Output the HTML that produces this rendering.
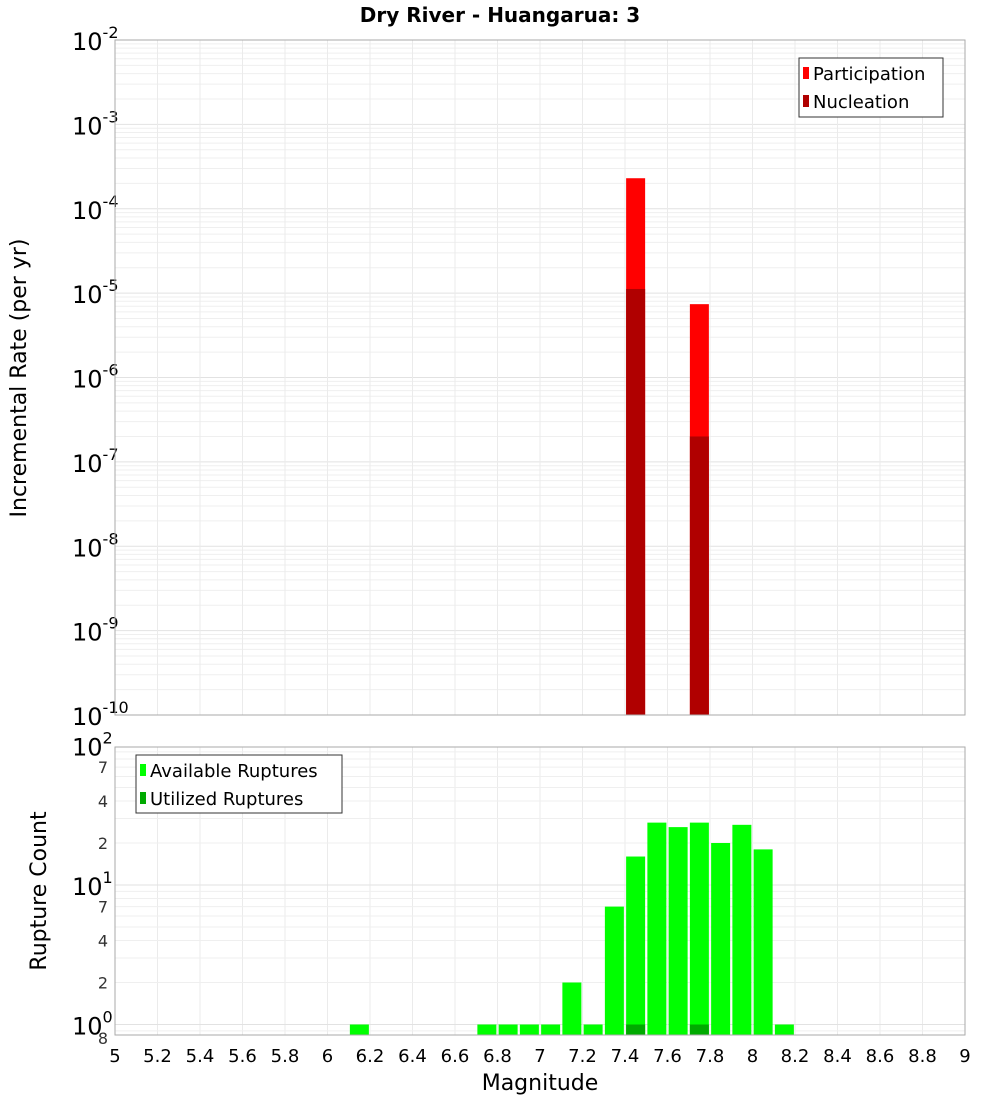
<!DOCTYPE html>
<html><head><meta charset="utf-8"><style>
body{margin:0;background:#fff;font-family:"Liberation Sans","DejaVu Sans",sans-serif}
svg text{font-family:"DejaVu Sans","Liberation Sans",sans-serif}
</style></head><body>
<svg id="c" width="1000" height="1100" xmlns="http://www.w3.org/2000/svg">
<text x="500" y="22" text-anchor="middle" font-size="20" font-weight="bold">Dry River - Huangarua: 3</text>
<text transform="translate(26,378) rotate(-90)" text-anchor="middle" font-size="22">Incremental Rate (per yr)</text>
<text transform="translate(46,891) rotate(-90)" text-anchor="middle" font-size="22">Rupture Count</text>
<text x="540" y="1090" text-anchor="middle" font-size="22">Magnitude</text>
<g id="topplot"></g><g id="botplot"></g>
</svg>
<script>
const mags = [7.45, 7.75];
const participation = [2.3e-4, 7.4e-6];
const nucleation = [1.12e-5, 2.0e-7];
const countMags = [6.15, 6.75, 6.85, 6.95, 7.05, 7.15, 7.25, 7.35, 7.45, 7.55, 7.65, 7.75, 7.85, 7.95, 8.05, 8.15];
const available = [1, 1, 1, 1, 1, 2, 1, 7, 16, 28, 26, 28, 20, 27, 18, 1];
const utilizedMags = [7.45, 7.75];
const utilized = [1, 1];
const xTicks = [5,5.2,5.4,5.6,5.8,6,6.2,6.4,6.6,6.8,7,7.2,7.4,7.6,7.8,8,8.2,8.4,8.6,8.8,9];

const NS='http://www.w3.org/2000/svg';
const L=115,R=965;
const x=v=>L+(v-5)/4*(R-L);
const T1=40,B1=715;
const y1=v=>T1+(-2-Math.log10(v))/8*(B1-T1);
const T2=747,B2=1035;
const y2=v=>1024.5-Math.log10(v)*139.5;
function el(p,tag,a,txt){const e=document.createElementNS(NS,tag);for(const k in a)e.setAttribute(k,a[k]);if(txt!==undefined)e.textContent=txt;p.appendChild(e);return e;}
const topG=document.getElementById('topplot'),botG=document.getElementById('botplot');
for(let d=-10;d<-2;d++){for(let m=1;m<10;m++){const yy=y1(m*Math.pow(10,d));const g=el(topG,'line',{x1:L,x2:R,y1:yy,y2:yy,stroke:m==1?'#e2e2e2':'#efefef','stroke-width':1});

}}
xTicks.forEach(t=>{const g=el(topG,'line',{x1:x(t),x2:x(t),y1:T1,y2:B1,stroke:'#ebebeb'});


const g2=el(botG,'line',{x1:x(t),x2:x(t),y1:T2,y2:B2,stroke:'#ebebeb'});


const lb=el(botG,'text',{x:x(t),y:1062,'text-anchor':'middle','font-size':18},String(t));

});
for(let d=-10;d<=-2;d++){const yy=y1(Math.pow(10,d));
const t=el(topG,'text',{x:72,y:yy+10,'font-size':24},'10');


el(t,'tspan',{dy:-12,'font-size':16},String(d));}
mags.forEach((m,i)=>{const w=19,xx=x(m)-w/2;
const p=el(topG,'rect',{x:xx,y:y1(participation[i]),width:w,height:B1-y1(participation[i]),fill:'#ff0000'});


const n=el(topG,'rect',{x:xx,y:y1(nucleation[i]),width:w,height:B1-y1(nucleation[i]),fill:'#b00000'});

});
el(topG,'rect',{x:L,y:T1,width:R-L,height:B1-T1,fill:'none',stroke:'#aaa'});
const lg=el(topG,'g',{});


el(lg,'rect',{x:799,y:58,width:144,height:59,fill:'#fff',stroke:'#333'});
el(lg,'rect',{x:803,y:67,width:6,height:12,fill:'#ff0000'});
el(lg,'text',{x:813,y:80,'font-size':18},'Participation');
el(lg,'rect',{x:803,y:95,width:6,height:12,fill:'#b00000'});
el(lg,'text',{x:813,y:108,'font-size':18},'Nucleation');
for(let d=-1;d<2;d++){for(let m=1;m<10;m++){const v=m*Math.pow(10,d);const yy=y2(v);if(yy>B2||yy<T2)continue;
const g=el(botG,'line',{x1:L,x2:R,y1:yy,y2:yy,stroke:m==1?'#e2e2e2':'#efefef'});

}}
[[1,'10',0],[10,'10',1],[100,'10',2]].forEach(([v,s,e])=>{const yy=y2(v);
const t=el(botG,'text',{x:72,y:yy+10,'font-size':24},s);


el(t,'tspan',{dy:-12,'font-size':16},String(e));});
[[2,'2'],[4,'4'],[7,'7'],[20,'2'],[40,'4'],[70,'7'],[0.8,'8']].forEach(([v,s])=>{
const t=el(botG,'text',{x:108,y:y2(v)+6,'text-anchor':'end','font-size':16,fill:'#333'},s);

});
countMags.forEach((m,i)=>{const w=19,yy=y2(available[i]);
const r=el(botG,'rect',{x:x(m)-w/2,y:yy,width:w,height:B2-yy,fill:'#00ff00'});

});
utilizedMags.forEach((m,i)=>{const w=19,yy=y2(utilized[i]);
const r=el(botG,'rect',{x:x(m)-w/2,y:yy,width:w,height:B2-yy,fill:'#00aa00'});

});
el(botG,'rect',{x:L,y:T2,width:R-L,height:B2-T2,fill:'none',stroke:'#aaa'});
const lg2=el(botG,'g',{});


el(lg2,'rect',{x:136,y:755,width:206,height:58,fill:'#fff',stroke:'#333'});
el(lg2,'rect',{x:140,y:764,width:6,height:12,fill:'#00ff00'});
el(lg2,'text',{x:150,y:777,'font-size':18},'Available Ruptures');
el(lg2,'rect',{x:140,y:792,width:6,height:12,fill:'#00aa00'});
el(lg2,'text',{x:150,y:805,'font-size':18},'Utilized Ruptures');
</script>
</body></html>
